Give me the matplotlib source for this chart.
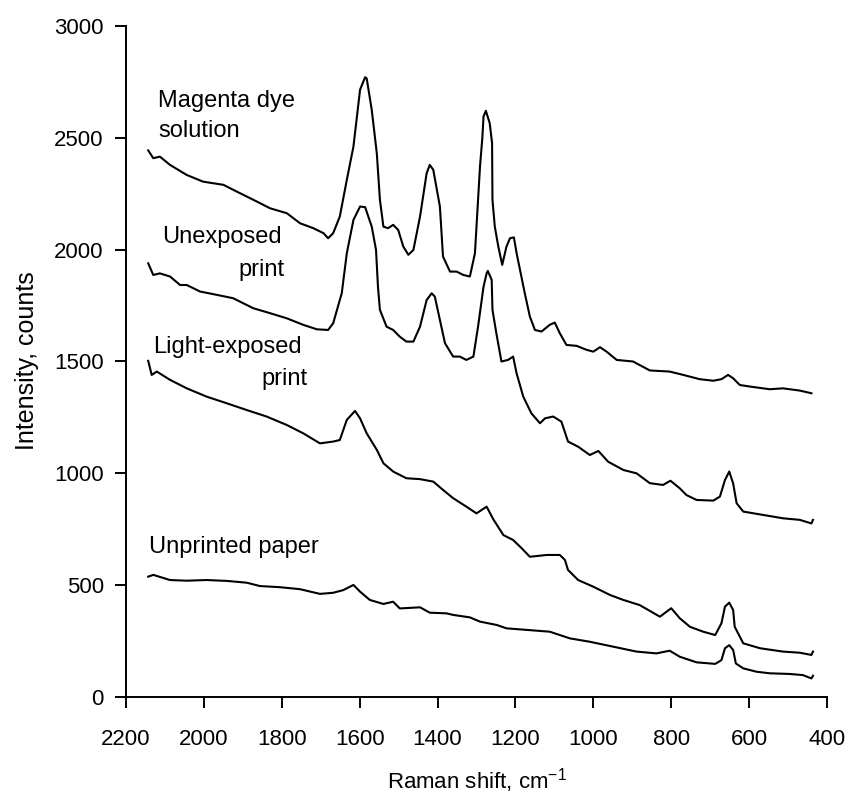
import matplotlib
matplotlib.use("Agg")
import matplotlib.pyplot as plt

plt.rcParams['font.family'] = ['Liberation Sans', 'DejaVu Sans']
plt.rcParams['mathtext.default'] = 'regular'

# Raman shift (cm-1) and intensity (counts)
magenta_x = [2143, 2130, 2113, 2087, 2044, 2002, 1950, 1916, 1873, 1830, 1787,
             1753, 1719, 1693, 1681, 1668, 1651, 1633, 1616, 1599, 1586, 1582,
             1569, 1556, 1548, 1539, 1527, 1514, 1501, 1488, 1475, 1462, 1445,
             1428, 1420, 1411, 1394, 1386, 1368, 1351, 1334, 1317, 1304, 1291,
             1285, 1282, 1276, 1266, 1260, 1259, 1253, 1244, 1234, 1223, 1214,
             1204, 1197, 1176, 1163, 1150, 1133, 1112, 1099, 1086, 1069, 1043,
             1017, 1000, 983, 966, 940, 898, 855, 804, 769, 727, 692, 671, 654,
             641, 624, 598, 547, 513, 470, 440]
magenta_y = [2444, 2409, 2416, 2379, 2334, 2304, 2290, 2260, 2223, 2185, 2163,
             2118, 2096, 2074, 2051, 2074, 2148, 2312, 2461, 2715, 2771, 2766,
             2625, 2431, 2223, 2103, 2096, 2111, 2088, 2014, 1977, 1999, 2148,
             2342, 2379, 2357, 2193, 1969, 1902, 1902, 1887, 1880, 1984, 2372,
             2500, 2595, 2621, 2565, 2476, 2223, 2103, 2014, 1932, 2014, 2051,
             2055, 1984, 1805, 1701, 1641, 1634, 1664, 1674, 1626, 1574, 1570,
             1552, 1544, 1564, 1544, 1507, 1500, 1460, 1455, 1440, 1421, 1414,
             1421, 1440, 1425, 1395, 1388, 1376, 1380, 1370, 1358]

unexposed_x = [2143, 2130, 2113, 2087, 2061, 2044, 2010, 1967, 1925, 1873,
               1830, 1787, 1745, 1710, 1681, 1668, 1651, 1646, 1633, 1616,
               1599, 1586, 1569, 1558, 1553, 1548, 1531, 1514, 1497, 1480,
               1462, 1445, 1428, 1415, 1407, 1394, 1381, 1360, 1343, 1326,
               1308, 1296, 1282, 1274, 1271, 1261, 1259, 1249, 1236, 1219,
               1206, 1197, 1180, 1159, 1137, 1124, 1103, 1082, 1065, 1039,
               1009, 987, 962, 923, 889, 855, 821, 802, 778, 761, 735, 692,
               675, 662, 651, 641, 632, 615, 564, 513, 470, 440, 436]
unexposed_y = [1939, 1887, 1894, 1880, 1842, 1842, 1813, 1798, 1783, 1738,
               1716, 1693, 1664, 1644, 1641, 1671, 1775, 1805, 1984, 2133,
               2193, 2190, 2103, 1999, 1834, 1731, 1656, 1641, 1611, 1589,
               1589, 1656, 1775, 1805, 1790, 1686, 1582, 1522, 1522, 1507,
               1522, 1656, 1834, 1894, 1905, 1865, 1731, 1626, 1500, 1507,
               1522, 1447, 1343, 1268, 1224, 1246, 1254, 1231, 1142, 1119,
               1082, 1100, 1052, 1015, 1000, 956, 948, 967, 933, 903, 881, 878,
               896, 970, 1008, 955, 866, 829, 814, 799, 792, 776, 792]

exposed_x = [2143, 2134, 2121, 2087, 2044, 1993, 1941, 1890, 1839, 1787, 1745,
             1702, 1668, 1651, 1633, 1612, 1599, 1582, 1556, 1539, 1514, 1480,
             1445, 1411, 1386, 1360, 1326, 1300, 1274, 1257, 1231, 1206, 1184,
             1163, 1120, 1086, 1073, 1065, 1039, 1000, 957, 923, 881, 829, 800,
             778, 752, 718, 687, 671, 662, 651, 641, 637, 615, 572, 513, 470,
             440, 436]
exposed_y = [1503, 1440, 1455, 1418, 1380, 1343, 1313, 1283, 1254, 1216, 1179,
             1134, 1142, 1149, 1239, 1279, 1246, 1179, 1105, 1045, 1008, 978,
             974, 963, 926, 889, 851, 821, 851, 795, 724, 702, 665, 627, 635,
             635, 613, 568, 523, 493, 456, 434, 411, 359, 397, 352, 314, 292,
             277, 330, 404, 422, 389, 314, 240, 218, 203, 198, 188, 203]

paper_x = [2143, 2130, 2087, 2044, 1993, 1941, 1890, 1856, 1805, 1753, 1702,
           1668, 1642, 1616, 1599, 1574, 1539, 1514, 1497, 1445, 1420, 1377,
           1360, 1317, 1291, 1248, 1223, 1112, 1060, 1009, 949, 889, 838, 804,
           778, 735, 687, 671, 662, 651, 641, 634, 615, 581, 547, 496, 462,
           440, 436]
paper_y = [538, 546, 523, 520, 523, 519, 511, 496, 491, 482, 461, 466, 478,
           501, 471, 434, 416, 426, 396, 401, 377, 374, 367, 356, 337, 322,
           307, 292, 262, 247, 225, 203, 195, 207, 180, 155, 148, 165, 218,
           232, 210, 150, 128, 113, 106, 103, 98, 83, 95]

fig = plt.figure(figsize=(8.51, 7.94), dpi=100)
ax = fig.add_axes([126/851, 1 - 697/794, 701/851, 671/794])

for xs, ys in [(magenta_x, magenta_y), (unexposed_x, unexposed_y),
               (exposed_x, exposed_y), (paper_x, paper_y)]:
    ax.plot(xs, ys, color='black', lw=1.5)

ax.set_xlim(2200, 400)
ax.set_ylim(0, 3000)
ax.set_xticks(range(2200, 399, -200))
ax.set_yticks(range(0, 3001, 500))
ax.spines['top'].set_visible(False)
ax.spines['right'].set_visible(False)
for s in ['left', 'bottom']:
    ax.spines[s].set_linewidth(1.4)
ax.tick_params(axis='both', direction='out', length=8, width=1.4,
               labelsize=16)
ax.tick_params(axis='x', pad=15)
ax.tick_params(axis='y', pad=8)

fs = 17
ax.text(2118, 2638, 'Magenta dye', fontsize=fs, ha='left', va='baseline')
ax.text(2118, 2504, 'solution', fontsize=fs, ha='left', va='baseline')
ax.text(2108, 2030, 'Unexposed', fontsize=fs, ha='left', va='baseline')
ax.text(1792, 1883, 'print', fontsize=fs, ha='right', va='baseline')
ax.text(2131, 1538, 'Light-exposed', fontsize=fs, ha='left', va='baseline')
ax.text(1733, 1395, 'print', fontsize=fs, ha='right', va='baseline')
ax.text(2141, 644, 'Unprinted paper', fontsize=fs, ha='left', va='baseline')

fig.text(477/851, 1 - 781/794, 'Raman shift, cm$^{-1}$', fontsize=16,
         ha='center', va='center')
fig.text(27/851, 1 - 361/794, 'Intensity, counts', fontsize=18,
         ha='center', va='center', rotation=90)

fig.savefig('out.png', dpi=100)
